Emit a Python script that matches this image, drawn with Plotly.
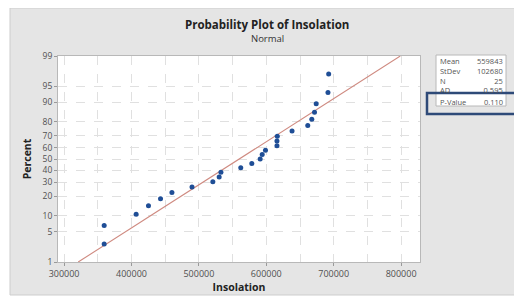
import plotly.graph_objects as go
from statistics import NormalDist

# ---- data ----
insolation = [359500, 359500, 406900, 425200, 443100, 460000, 489800, 520700,
              530100, 532700, 562100, 578500, 590900, 593900, 598800, 615800,
              615800, 616300, 638200, 661500, 667500, 671500, 674000, 691500, 692500]
percent = [2.76, 6.69, 10.63, 14.57, 18.50, 22.44, 26.38, 30.31, 34.25, 38.19,
           42.13, 46.06, 50.00, 53.94, 57.87, 61.81, 65.75, 69.69, 73.62, 77.56,
           81.50, 85.43, 89.37, 93.31, 97.24]
fit_mean = 559843
fit_stdev = 102680
n_obs = 25
ad_stat = "0.595"
p_value = "0.110"
y_tick_percent = [1, 5, 10, 20, 30, 40, 50, 60, 70, 80, 90, 95, 99]
x_tick_vals = [300000, 400000, 500000, 600000, 700000, 800000]
stat_labels = ["Mean", "StDev", "N", "AD"]
stat_values = [str(fit_mean), str(fit_stdev), str(n_obs), ad_stat]

nd = NormalDist()
z = lambda p: nd.inv_cdf(p / 100.0)

PAGE_W, PAGE_H = 522, 300
OFF = 8  # default body margin of the html page
W, H = PAGE_W - OFF, PAGE_H - OFF
L, R, T, B = 58, 420, 56, 262  # plot area bounds in page pixels


def px(x):
    return (x - L) / (R - L)


def py(y):
    return (B - y) / (B - T)


fig = go.Figure()

# fitted normal line from 1% to 99%
line_p = [1, 99]
fig.add_trace(go.Scatter(
    x=[fit_mean + fit_stdev * z(p) for p in line_p],
    y=[z(p) for p in line_p],
    mode="lines", line=dict(color="#cf8a80", width=1.1),
    hoverinfo="skip", showlegend=False))

fig.add_trace(go.Scatter(
    x=insolation, y=[z(p) for p in percent],
    mode="markers", marker=dict(color="#1f4e96", size=5),
    showlegend=False))

grid = "#e0e0e0"
fig.update_xaxes(
    range=[291000, 828000], tickvals=x_tick_vals,
    ticktext=[str(v) for v in x_tick_vals],
    showgrid=True, gridcolor=grid, griddash="dash", gridwidth=1,
    minor=dict(dtick=50000, tick0=300000, showgrid=True, gridcolor=grid, griddash="dash"),
    showline=True, linecolor="#b8b8b8", mirror=True,
    ticks="outside", ticklen=3, tickcolor="#999",
    tickfont=dict(family="Open Sans", size=9, color="#505050"),
    title=dict(text="<b>Insolation</b>", font=dict(family="Open Sans", size=10.5, color="#222"),
               standoff=3),
    automargin=False, zeroline=False)
fig.update_yaxes(
    range=[z(1), z(99)],
    tickvals=[z(p) for p in y_tick_percent],
    ticktext=[str(p) for p in y_tick_percent],
    showgrid=True, gridcolor=grid, griddash="dash", gridwidth=1,
    showline=True, linecolor="#b8b8b8", mirror=True,
    ticks="outside", ticklen=3, tickcolor="#999",
    tickfont=dict(family="Open Sans", size=8.5, color="#505050"),
    title=dict(text="<b>Percent</b>", font=dict(family="Open Sans", size=10.5, color="#222"),
               standoff=8),
    automargin=False, zeroline=False)

x_left, x_right = px(OFF), px(PAGE_W)
y_bot, y_top = py(PAGE_H), py(OFF)
shapes = [
    # white frame around grey panel
    dict(type="rect", xref="paper", yref="paper", x0=x_left, x1=px(10), y0=y_bot, y1=y_top,
         fillcolor="white", line=dict(width=0), layer="below"),
    dict(type="rect", xref="paper", yref="paper", x0=px(519), x1=x_right, y0=y_bot, y1=y_top,
         fillcolor="white", line=dict(width=0), layer="below"),
    dict(type="rect", xref="paper", yref="paper", x0=x_left, x1=x_right, y0=y_bot, y1=py(295),
         fillcolor="white", line=dict(width=0), layer="below"),
    dict(type="rect", xref="paper", yref="paper", x0=px(10), x1=px(519), y0=py(295), y1=py(OFF),
         fillcolor="rgba(0,0,0,0)", line=dict(color="#cdcdcd", width=1), layer="below"),
    # stats box
    dict(type="rect", xref="paper", yref="paper", x0=px(436), x1=px(506), y0=py(106), y1=py(55),
         fillcolor="white", line=dict(color="#b8b8b8", width=1), layer="below"),
    # highlight rectangle
    dict(type="rect", xref="paper", yref="paper", x0=px(427), x1=px(518), y0=py(114), y1=py(93),
         fillcolor="rgba(0,0,0,0)", line=dict(color="#2e4a78", width=2.5), layer="above"),
]

stat_font = dict(family="Open Sans", size=7.5, color="#555")
ann = [
    dict(text="<b>Probability Plot of Insolation</b>", x=px(267), y=py(24.5), xref="paper", yref="paper",
         showarrow=False, font=dict(family="Open Sans", size=11.5, color="#222"),
         xanchor="center", yanchor="middle"),
    dict(text="Normal", x=px(267), y=py(38), xref="paper", yref="paper",
         showarrow=False, font=dict(family="Open Sans", size=9.5, color="#333"),
         xanchor="center", yanchor="middle"),
    dict(text="<br>".join(stat_labels), x=px(438), y=py(54.5), xref="paper", yref="paper",
         showarrow=False, font=stat_font, xanchor="left", yanchor="top", align="left"),
    dict(text="<br>".join(stat_values), x=px(505), y=py(54.5), xref="paper", yref="paper",
         showarrow=False, font=stat_font, xanchor="right", yanchor="top", align="right"),
    dict(text="P-Value", x=px(438), y=py(102), xref="paper", yref="paper",
         showarrow=False, font=stat_font, xanchor="left", yanchor="middle"),
    dict(text=p_value, x=px(505), y=py(102), xref="paper", yref="paper",
         showarrow=False, font=stat_font, xanchor="right", yanchor="middle"),
]

fig.update_layout(
    template="none",
    width=W, height=H,
    margin=dict(l=L - OFF, r=PAGE_W - R, t=T - OFF, b=PAGE_H - B, pad=0),
    paper_bgcolor="#e5e5e5", plot_bgcolor="white",
    shapes=shapes, annotations=ann,
    font=dict(family="Open Sans"),
    showlegend=False,
)

fig.write_html("out.html")
